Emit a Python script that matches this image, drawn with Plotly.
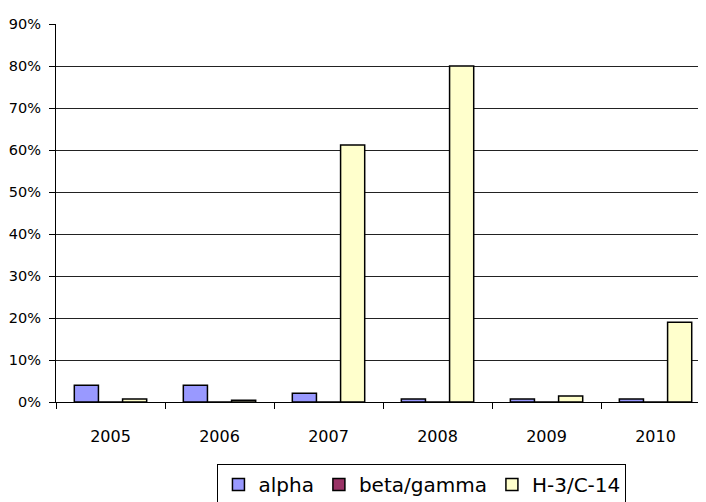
import plotly.graph_objects as go

years = ["2005", "2006", "2007", "2008", "2009", "2010"]
alpha = [4.0, 4.0, 2.1, 0.7, 0.7, 0.7]
beta_gamma = [0, 0, 0, 0, 0, 0]
h3_c14 = [0.7, 0.4, 61.2, 80.0, 1.4, 19.0]
y_ticks = [0, 10, 20, 30, 40, 50, 60, 70, 80, 90]
y_tick_labels = [f"{v}%" for v in y_ticks]

FONT = "DejaVu Sans, sans-serif"

fig = go.Figure()
for name, vals, col in [("alpha", alpha, "#9999FF"),
                        ("beta/gamma", beta_gamma, "#993366"),
                        ("H-3/C-14", h3_c14, "#FFFFCC")]:
    fig.add_trace(go.Bar(x=years, y=vals, name=name,
                         marker=dict(color=col, line=dict(color="black", width=1.5))))

fig.update_layout(
    width=698, height=494,
    margin=dict(l=48, r=0, t=16, b=100, autoexpand=False),
    paper_bgcolor="white", plot_bgcolor="white",
    barmode="group", bargap=0.336, bargroupgap=0,
    font=dict(family=FONT, color="black", size=15),
    showlegend=True,
    legend=dict(orientation="h", x=0.563, xanchor="center", y=-0.164, yanchor="top",
                bordercolor="black", borderwidth=1, font=dict(size=20),
                itemwidth=30, traceorder="normal"),
    xaxis=dict(type="category", range=[-0.5, 5.463], showline=True, linecolor="black",
               linewidth=1, ticks="outside", tickson="boundaries", ticklen=6,
               tickcolor="black", showgrid=False, tickfont=dict(size=16),
               ticklabelstandoff=20),
    yaxis=dict(range=[0, 90], tickvals=y_ticks, ticktext=y_tick_labels, showline=True,
               linecolor="black", linewidth=1, ticks="outside", ticklen=6,
               tickcolor="black", showgrid=True, gridcolor="#222", gridwidth=1,
               zeroline=False, tickfont=dict(size=14.5), ticklabelstandoff=5),
)
fig.write_html("out.html")
